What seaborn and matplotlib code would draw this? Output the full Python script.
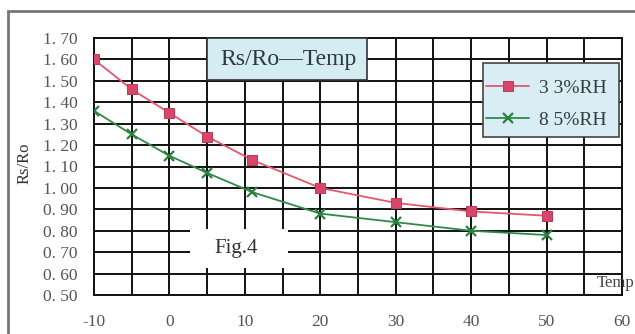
import matplotlib
matplotlib.use("Agg")
import matplotlib.pyplot as plt
from matplotlib.patches import Rectangle
import seaborn as sns
import pandas as pd

# ---- data ----
temps = [-10, -5, 0, 5, 11, 20, 30, 40, 50]
rh33 = [1.60, 1.46, 1.35, 1.24, 1.13, 1.00, 0.93, 0.89, 0.87]
rh85 = [1.36, 1.25, 1.15, 1.07, 0.98, 0.88, 0.84, 0.80, 0.78]
series_names = ["3 3%RH", "8 5%RH"]
y_ticks = [0.5, 0.6, 0.7, 0.8, 0.9, 1.0, 1.1, 1.2, 1.3, 1.4, 1.5, 1.6, 1.7]
x_ticks = [-10, -5, 0, 5, 10, 15, 20, 25, 30, 35, 40, 45, 50, 55, 60]
x_labels = ["-10", "", "0", "", "10", "", "20", "", "30", "", "40", "", "50", "", "60"]

df33 = pd.DataFrame({"Temp": temps, "Rs/Ro": rh33})
df85 = pd.DataFrame({"Temp": temps, "Rs/Ro": rh85})

sns.set_style("white")
plt.rcParams["font.family"] = ["Liberation Serif", "DejaVu Serif"]

W, H = 635, 334
fig = plt.figure(figsize=(W / 100, H / 100), dpi=100)
fig.patch.set_facecolor("white")

def fx(px):
    return px / W

def fy(py):
    return 1 - py / H

L, R, T, B = 94, 622, 38, 295
ax = fig.add_axes([fx(L), fy(B), fx(R - L), (B - T) / H])

sns.lineplot(data=df33, x="Temp", y="Rs/Ro", color="#e8566e", marker="s",
             markersize=6.5, markerfacecolor="#d8466a", markeredgecolor="#c23a5a",
             linewidth=1.3, ax=ax, label=series_names[0], zorder=5)
sns.lineplot(data=df85, x="Temp", y="Rs/Ro", color="#2f8a45", marker="x",
             markersize=7, markeredgewidth=1.6, markeredgecolor="#2a8040",
             linewidth=1.3, ax=ax, label=series_names[1], zorder=5)

ax.set_xlim(-10, 60)
ax.set_ylim(0.5, 1.7)
ax.set_xticks(x_ticks)
ax.set_xticklabels(x_labels)
ax.set_yticks(y_ticks)
ax.set_yticklabels([f"{v:.2f}".replace(".", ". ") for v in y_ticks])
ax.tick_params(axis="both", length=0, colors="#555555", labelsize=12.5)
ax.tick_params(axis="x", pad=14)
ax.tick_params(axis="y", pad=12)
ax.grid(True, color="#111111", linewidth=1.4)
ax.set_axisbelow(True)
for s in ax.spines.values():
    s.set_color("#111111")
    s.set_linewidth(1.4)
ax.set_xlabel("")
ax.set_ylabel("")

# y label
fig.text(fx(25), fy(163), "Rs/Ro", rotation=90, ha="center", va="center",
         fontsize=12, color="#333333")
# x label (cut at edge)
fig.text(fx(597), fy(283), "Temp", ha="left", va="center",
         fontsize=12, color="#444444")

# title box
fig.patches.append(Rectangle((fx(207), fy(80)), fx(367 - 207), (80 - 38) / H,
                             transform=fig.transFigure, facecolor="#d5ecf3",
                             edgecolor="#333333", linewidth=1.2, zorder=6))
fig.text(fx(288), fy(60), "Rs/Ro\u2014Temp", ha="center", va="center",
         fontsize=17, color="#2a3a40", zorder=7)

# legend box
fig.patches.append(Rectangle((fx(483), fy(137)), fx(619 - 483), (137 - 63) / H,
                             transform=fig.transFigure, facecolor="#d8eef4",
                             edgecolor="#444444", linewidth=1.2, zorder=6))
handles, labels = ax.get_legend_handles_labels()
leg = ax.legend(handles=handles, labels=labels,
                loc="center right", bbox_to_anchor=(fx(620), fy(104)),
                bbox_transform=fig.transFigure, frameon=False,
                fontsize=14, handlelength=2.2, labelspacing=0.75,
                handletextpad=0.5, borderpad=0.2)
leg.remove()
fig.legends.append(leg)
leg.set_zorder(8)
for t in leg.get_texts():
    t.set_color("#333d40")

# Fig.4 box
fig.patches.append(Rectangle((fx(190), fy(268)), fx(288 - 190), (268 - 229) / H,
                             transform=fig.transFigure, facecolor="white",
                             edgecolor="none", zorder=6))
fig.text(fx(236), fy(249), "Fig.4", ha="center", va="center",
         fontsize=15, color="#333333", zorder=7)

# outer frame
fig.patches.append(Rectangle((fx(8), fy(340)), fx(640 - 8), (340 - 11) / H,
                             transform=fig.transFigure, facecolor="none",
                             edgecolor="#777777", linewidth=2, zorder=9,
                             clip_on=False))

fig.savefig("out.png", dpi=100)
